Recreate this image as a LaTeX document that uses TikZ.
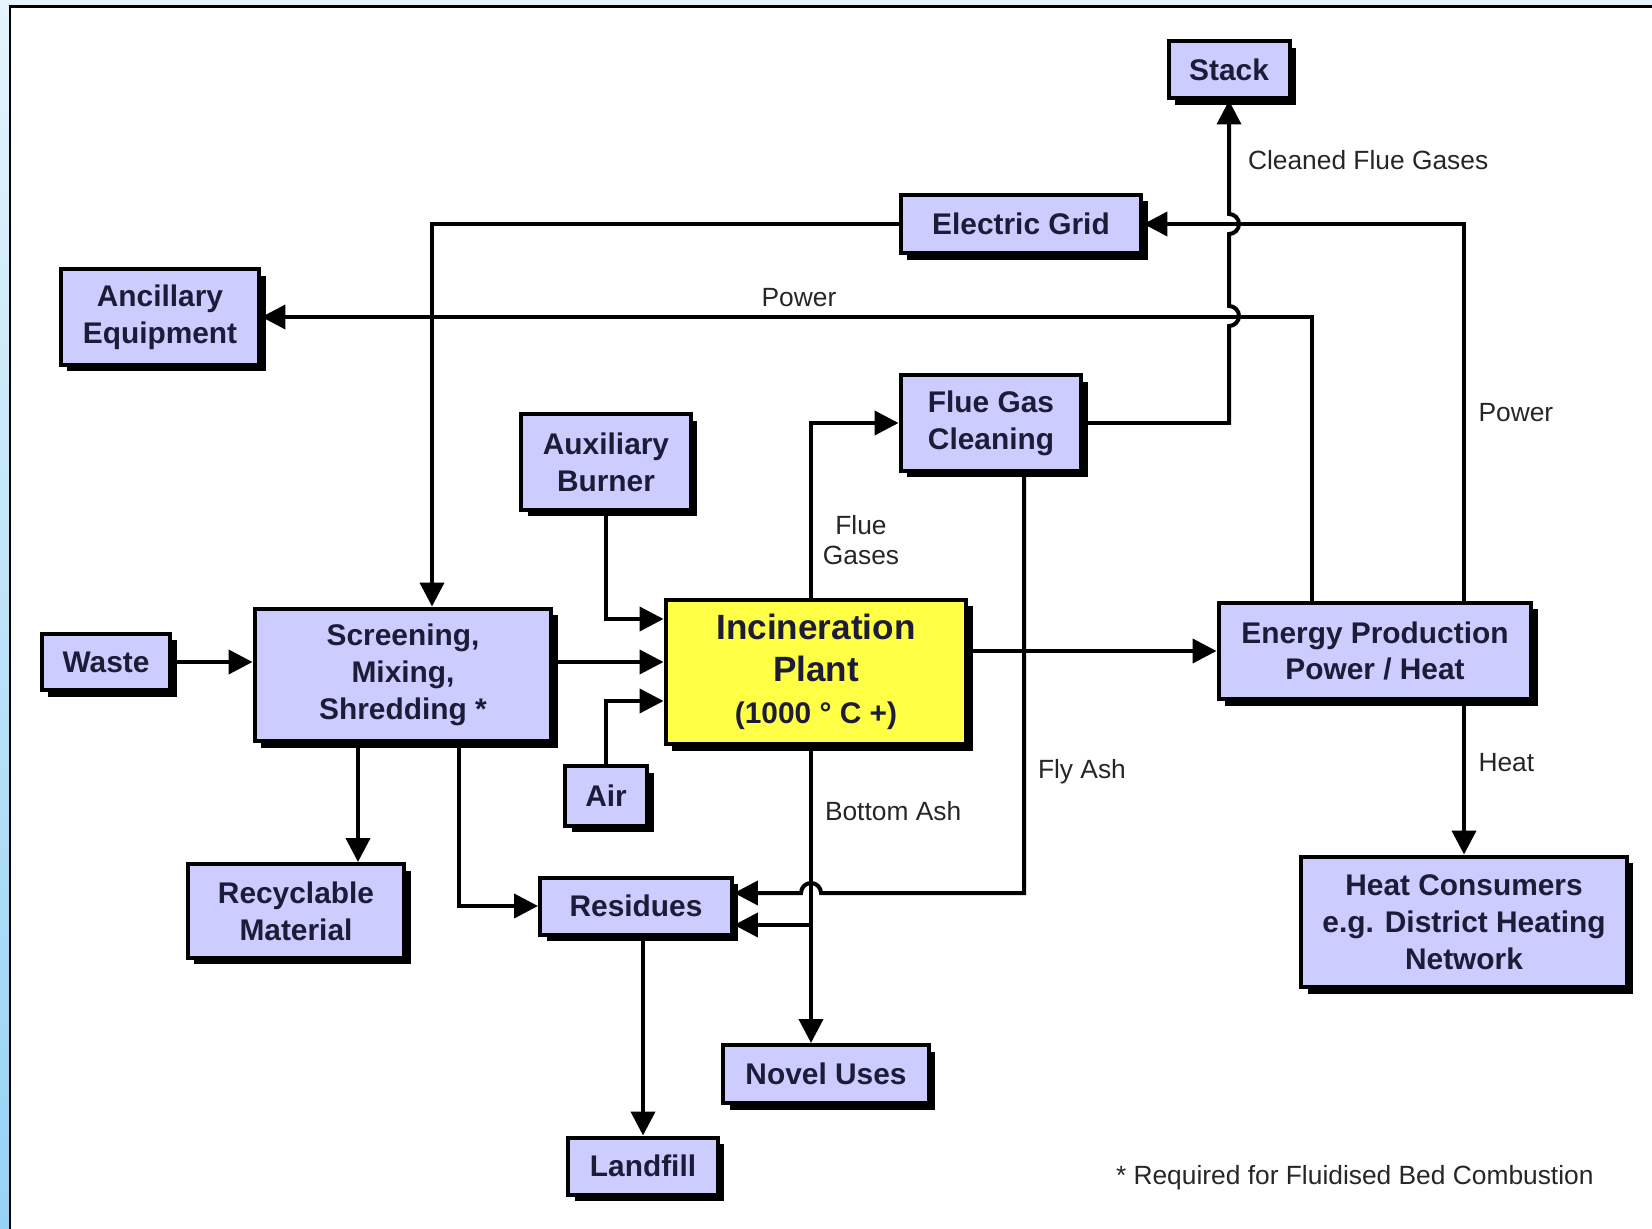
\documentclass[tikz,border=0pt]{standalone}
\usepackage{fontspec}
\setmainfont{Liberation Sans}
\usetikzlibrary{arrows.meta,shadows}
\definecolor{boxfill}{RGB}{204,204,255}
\definecolor{plantfill}{RGB}{255,255,70}
\definecolor{boxtext}{RGB}{28,28,56}
\definecolor{framebg}{RGB}{150,210,245}

\begin{document}
\begin{tikzpicture}[x=0.02cm, y=-0.02cm, line width=0.08cm, >={Triangle[length=0.48cm,width=0.48cm]}]
    \tikzstyle{flow}=[->]
    \tikzstyle{flow label}=[text=black!85, inner sep=0pt, font=\fontsize{15}{17}\selectfont]
    \tikzset{%
    every box/.style={
      draw,
      fill=boxfill,
      text=boxtext,
      font=\bfseries\fontsize{17}{21}\selectfont,
      align=center,
      inner sep=0pt,
      drop shadow={shadow xshift=0.13cm, shadow yshift=-0.13cm, fill=black, opacity=1}},
    box plant/.style={
      fill=plantfill,
      font=\bfseries\fontsize{20}{24}\selectfont}
    }

    % frame
    \useasboundingbox (0,0) rectangle (1652,1229);
    \fill[framebg!25] (0,0) rectangle (1652,6);
    \shade[top color=framebg!25, bottom color=framebg] (0,0) rectangle (10,1229);
    \draw[line width=0.06cm] (10,1229) -- (10,7) -- (1652,7);

    \node[every box, minimum width=2.42cm, minimum height=1.14cm] (stack) at (1229,70) {Stack};
    \node[every box, minimum width=4.82cm, minimum height=1.18cm] (grid) at (1021,224) {Electric Grid};
    \node[every box, minimum width=3.98cm, minimum height=1.92cm] (ancillary) at (160,317) {Ancillary\\Equipment};
    \node[every box, minimum width=3.62cm, minimum height=1.92cm] (fgc) at (991,423) {Flue Gas\\Cleaning};
    \node[every box, minimum width=3.40cm, minimum height=1.92cm] (burner) at (606,462) {Auxiliary\\Burner};
    \node[every box, minimum width=2.58cm, minimum height=1.14cm] (waste) at (106,662) {Waste};
    \node[every box, minimum width=5.94cm, minimum height=2.66cm] (screen) at (403,675) {Screening,\\Mixing,\\Shredding *};
    \node[every box, box plant, minimum width=6.02cm, minimum height=2.90cm] (plant) at (816,672)
    {Incineration\\Plant\\{\fontsize{17}{21}\selectfont (1000 ° C +)}};
    \node[every box, minimum width=6.26cm, minimum height=1.94cm] (energy) at (1375,651) {Energy Production\\Power / Heat};
    \node[every box, minimum width=1.64cm, minimum height=1.20cm] (air) at (606,796) {Air};
    \node[every box, minimum width=4.34cm, minimum height=1.88cm] (recycle) at (296,911) {Recyclable\\Material};
    \node[every box, minimum width=3.84cm, minimum height=1.14cm] (residues) at (636,906) {Residues};
    \node[every box, minimum width=6.52cm, minimum height=2.62cm] (consumers) at (1464,922) {Heat Consumers\\e.g. District Heating\\Network};
    \node[every box, minimum width=4.12cm, minimum height=1.16cm] (novel) at (826,1074) {Novel Uses};
    \node[every box, minimum width=3.00cm, minimum height=1.14cm] (landfill) at (643,1166) {Landfill};

    % hop points and the ash split
    \coordinate (ashsplit) at (811,925);
    \coordinate (flyhop) at (811,893);

    % electric grid back to the screening
    \draw[flow] (grid.west) -| (screen.north -| 432,0);

    % power from energy production
    \draw[flow] (energy.north -| 1464,0) |- (grid.east)
    node[flow label, right=0.25cm, pos=0.25] (lblpowerright) {Power};
    \draw[flow] (energy.north -| 1312,0) |- (ancillary.east);
    \node[flow label] (lblpowertop) at (799,298) {Power};

    % flue gas cleaning to the stack, hopping over both power lines
    \draw[flow] (fgc.east) -- (fgc.east -| stack) -- (stack |- 0,326)
    arc[start angle=-90, end angle=90, radius=0.2cm] -- (stack |- 0,234)
    arc[start angle=-90, end angle=90, radius=0.2cm] -- (stack.south);
    \node[flow label, anchor=west] (lblcleaned) at (1246,160) {Cleaned Flue Gases};

    % plant to flue gas cleaning
    \draw[flow] (plant.north -| 811,0) |- (fgc.west);
    \node[flow label, align=center, font=\fontsize{15}{17}\selectfont] (lblflue) at (861,540) {Flue\\Gases};

    % inputs to the plant
    \draw[flow] (waste.east) -- (waste.east -| screen.west);
    \draw[flow] (burner.south) |- (plant.west |- 0,619);
    \draw[flow] (screen.east |- 0,662) -- (plant.west |- 0,662);
    \draw[flow] (air.north) |- (plant.west |- 0,701);

    % plant to energy production and heat
    \draw[flow] (energy.west -| plant.east) -- (energy.west);
    \draw[flow] (consumers.north |- energy.south) -- (consumers.north)
    node[flow label, right=0.25cm, pos=0.4] (lblheat) {Heat};

    % screening outputs
    \draw[flow] (screen.south -| 358,0) -- (recycle.north -| 358,0);
    \draw[flow] (screen.south -| 459,0) |- (residues.west);

    % ash streams
    \draw[flow] (plant.south -| ashsplit) -- (novel.north -| ashsplit);
    \node[flow label, anchor=west] (lblbottom) at (823,811) {Bottom Ash};
    \draw[flow] (ashsplit) -- (ashsplit -| residues.east);
    \draw[flow] (fgc.south -| 1024,0) |- ([xshift=0.2cm]flyhop)
    arc[start angle=0, end angle=180, radius=0.2cm] -- (flyhop -| residues.east);
    \node[flow label, anchor=west] (lblfly) at (1036,772) {Fly Ash};

    % residues to landfill
    \draw[flow] (landfill.north |- residues.south) -- (landfill.north);

    \node[flow label, anchor=west] (note) at (1114,1178) {* Required for Fluidised Bed Combustion};

\end{tikzpicture}
\end{document}
